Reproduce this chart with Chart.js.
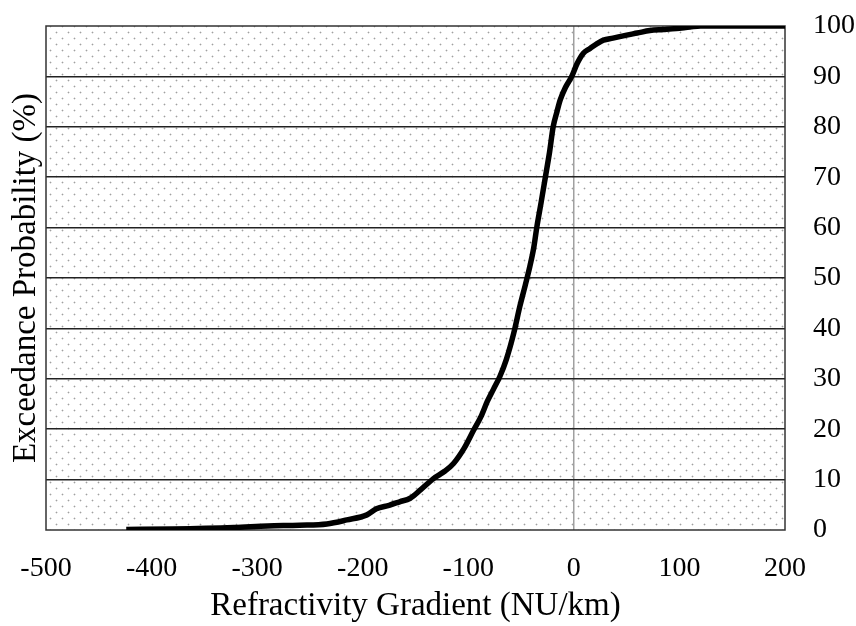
<!DOCTYPE html>
<html>
<head>
<meta charset="utf-8">
<script src="https://cdn.jsdelivr.net/npm/chart.js@4/dist/chart.umd.min.js"></script>
<style>
  html, body { margin: 0; padding: 0; background: #fff; }
  #wrap { width: 856px; height: 626px; }
</style>
</head>
<body>
<div id="wrap"><canvas id="chart" width="856" height="626"></canvas></div>
<script>
// refractivity gradient (NU/km) vs exceedance probability (%)
const gradient = [-424, -380, -322, -290, -260, -234, -215, -196, -187, -175, -165, -155, -145, -133, -122, -114,
    -104, -95, -88, -82, -76, -70, -64, -57, -51, -46, -42, -38, -35, -31, -27, -23, -19.6, -16, -13, -8, -2,
    3, 9, 15, 22, 28, 37, 50, 60, 72, 85, 97, 110, 120, 150, 200];
const exceedance = [0.1, 0.2, 0.5, 0.8, 0.95, 1.2, 2.0, 3.0, 4.2, 4.9, 5.6, 6.3, 8.0, 10.2, 11.7, 13.2,
    16.2, 19.8, 22.5, 25.5, 28.0, 30.5, 33.8, 39.0, 44.5, 48.6, 52.0, 56.0, 60.2, 65.0, 70.0, 75.0, 80.0, 83.0, 85.3, 87.8, 90.0,
    92.5, 94.6, 95.5, 96.5, 97.2, 97.6, 98.2, 98.6, 99.1, 99.3, 99.5, 99.8, 100, 100, 100];
const xTicks = [-500, -400, -300, -200, -100, 0, 100, 200];
const yTicks = [0, 10, 20, 30, 40, 50, 60, 70, 80, 90, 100];

const serif = '"Liberation Serif", "Times New Roman", serif';

// dotted background of the plot area
function makeDots() {
    const c = document.createElement('canvas');
    c.width = 12; c.height = 12;
    const g = c.getContext('2d');
    [[2, 2], [8, 8]].forEach(([x, y]) => {
        g.fillStyle = '#e0e0e0';
        g.fillRect(x - 1, y, 3, 1);
        g.fillRect(x, y - 1, 1, 3);
        g.fillStyle = '#a0a0a0';
        g.fillRect(x, y, 1, 1);
    });
    return c;
}

const plotDecor = {
    id: 'plotDecor',
    beforeDraw(chart) {
        const { ctx, chartArea: a } = chart;
        ctx.save();
        ctx.fillStyle = ctx.createPattern(makeDots(), 'repeat');
        ctx.fillRect(a.left, a.top, a.right - a.left, a.bottom - a.top);
        ctx.restore();
    },
    beforeDatasetsDraw(chart) {
        const { ctx, chartArea: a } = chart;
        ctx.save();
        ctx.strokeStyle = '#333';
        ctx.lineWidth = 1.5;
        ctx.strokeRect(a.left, a.top, a.right - a.left, a.bottom - a.top);
        ctx.restore();
    }
};

new Chart(document.getElementById('chart'), {
    type: 'line',
    data: {
        datasets: [{
            data: gradient.map((g, i) => ({ x: g, y: exceedance[i] })),
            borderColor: '#000',
            borderWidth: 5.5,
            pointRadius: 0,
            cubicInterpolationMode: 'monotone',
            fill: false,
            yAxisID: 'y'
        }]
    },
    options: {
        responsive: false,
        animation: false,
        layout: { padding: { top: 26, left: 0, right: 0, bottom: 0 } },
        plugins: { legend: { display: false }, tooltip: { enabled: false } },
        scales: {
            x: {
                type: 'linear',
                min: -500,
                max: 200,
                afterBuildTicks: s => { s.ticks = xTicks.map(v => ({ value: v })); },
                afterFit: s => { s.height = 96; s.paddingLeft = 0; s.paddingRight = 0; },
                ticks: { color: '#000', padding: 22, maxRotation: 0, font: { family: serif, size: 28 } },
                grid: {
                    drawTicks: false,
                    color: c => (c.tick && c.tick.value === 0 ? '#a0a0a0' : 'rgba(0,0,0,0)'),
                    lineWidth: 1.5
                },
                border: { display: false },
                title: {
                    display: true,
                    text: 'Refractivity Gradient (NU/km)',
                    color: '#000',
                    font: { family: serif, size: 33 },
                    padding: { top: 0, bottom: 0 }
                }
            },
            y: {
                position: 'right',
                min: 0,
                max: 100,
                afterBuildTicks: s => { s.ticks = yTicks.map(v => ({ value: v })); },
                afterFit: s => { s.width = 71; s.paddingTop = 0; s.paddingBottom = 0; },
                ticks: { color: '#000', padding: 28, font: { family: serif, size: 28 } },
                grid: {
                    drawTicks: false,
                    color: c => (c.tick && c.tick.value > 0 && c.tick.value < 100 ? '#222' : 'rgba(0,0,0,0)'),
                    lineWidth: 1.5
                },
                border: { display: false }
            },
            yl: {
                position: 'left',
                min: 0,
                max: 100,
                afterFit: s => { s.width = 46; s.paddingTop = 0; s.paddingBottom = 0; },
                ticks: { display: false },
                grid: { display: false },
                border: { display: false },
                title: {
                    display: true,
                    text: 'Exceedance Probability (%)',
                    color: '#000',
                    font: { family: serif, size: 33 },
                    padding: { top: 7, bottom: 0 }
                }
            }
        }
    },
    plugins: [plotDecor]
});
</script>
</body>
</html>
